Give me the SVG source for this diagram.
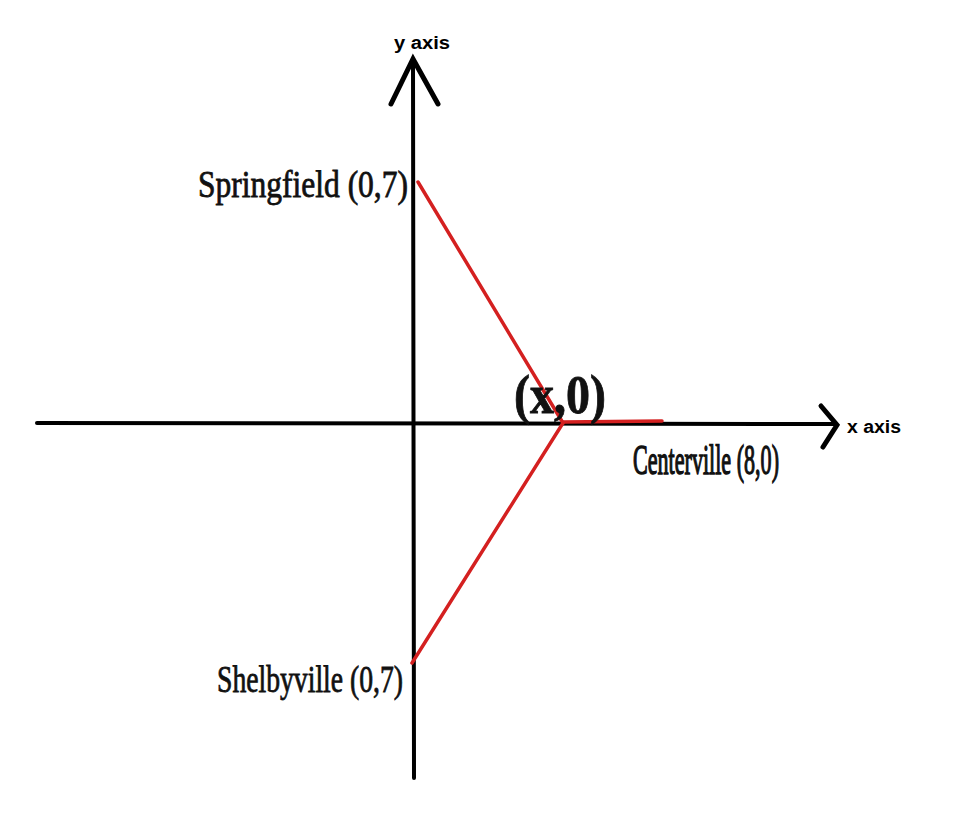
<svg xmlns="http://www.w3.org/2000/svg" width="964" height="840" viewBox="0 0 964 840">
<style>
.axis{stroke:#000;stroke-width:4;fill:none;stroke-linecap:round}
.head{stroke:#000;stroke-width:5;fill:none;stroke-linecap:round;stroke-linejoin:miter}
.red{stroke:#d42020;stroke-width:3.5;fill:none;stroke-linecap:round}
.lbl{font-family:"Liberation Serif","DejaVu Serif",serif;fill:#111;stroke:#111;stroke-width:0.8}
.ax{font-family:"Liberation Sans","DejaVu Sans",sans-serif;font-weight:bold;font-size:18px;fill:#000}
</style>
<rect width="964" height="840" fill="#fff"/>
<g id="connectors">
<line class="axis" x1="37" y1="423" x2="836" y2="424"/>
<line class="axis" x1="413" y1="60" x2="414" y2="778"/>
<polyline class="head" points="391,104 413,59 438,104"/>
<polyline class="head" points="821,406 837,425 823,447"/>
<line class="red" x1="418" y1="182" x2="563" y2="423"/>
<line class="red" x1="563" y1="423" x2="412" y2="663"/>
<line class="red" x1="563" y1="422" x2="662" y2="421"/>
</g>
<g id="y-axis-label"><text class="ax" x="394" y="49" textLength="56" lengthAdjust="spacingAndGlyphs">y axis</text></g>
<g id="x-axis-label"><text class="ax" x="847" y="433" textLength="54" lengthAdjust="spacingAndGlyphs">x axis</text></g>
<g id="springfield"><text class="lbl" x="198" y="197" font-size="38" textLength="210" lengthAdjust="spacingAndGlyphs">Springfield (0,7)</text></g>
<g id="shelbyville"><text class="lbl" x="217" y="692" font-size="38" textLength="186" lengthAdjust="spacingAndGlyphs">Shelbyville (0,7)</text></g>
<g id="centerville"><text class="lbl" transform="translate(633,474) scale(1,1.8)" x="0" y="0" font-size="24" stroke-width="0.6" textLength="146" lengthAdjust="spacingAndGlyphs">Centerville (8,0)</text></g>
<g id="x0"><text class="lbl" x="514" y="413" font-size="54" font-weight="bold" textLength="92" lengthAdjust="spacingAndGlyphs">(x,0)</text></g>
</svg>
